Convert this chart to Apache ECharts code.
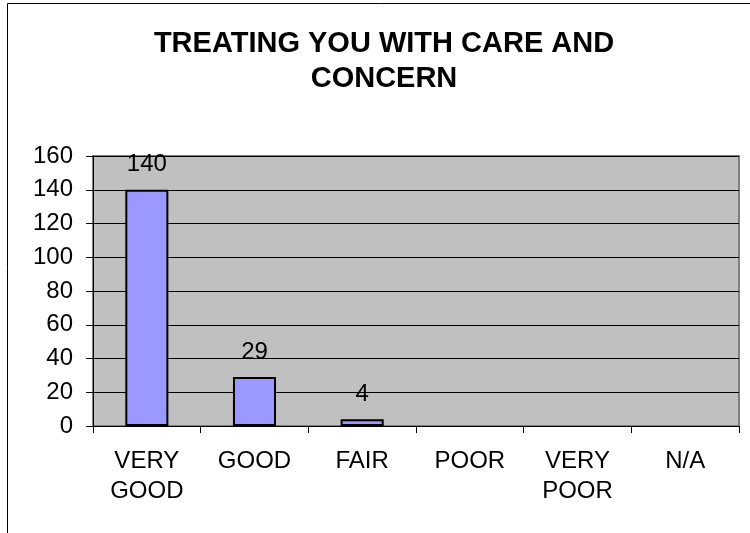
<!DOCTYPE html>
<html>
<head>
<meta charset="utf-8">
<script src="https://cdn.jsdelivr.net/npm/echarts@6/dist/echarts.min.js"></script>
<style>html,body{margin:0;padding:0;background:#fff}#c{width:750px;height:533px}</style>
</head>
<body>
<div id="c"></div>
<script>
const titleText = 'TREATING YOU WITH CARE AND\nCONCERN';
const categories = ['VERY\nGOOD', 'GOOD', 'FAIR', 'POOR', 'VERY\nPOOR', 'N/A'];
const values = [140, 29, 4, null, null, null];
const yMin = 0, yMax = 160, yStep = 20;

const FONT = 'Arial, "Liberation Sans", sans-serif';
const chart = echarts.init(document.getElementById('c'), null, {renderer: 'canvas'});
chart.setOption({
  animation: false,
  backgroundColor: '#ffffff',
  title: {
    text: titleText,
    left: 384,
    textAlign: 'center',
    top: 26,
    padding: 0,
    textStyle: {fontFamily: FONT, fontWeight: 'bold', fontSize: 29, lineHeight: 35, color: '#000'}
  },
  graphic: [{
    type: 'rect', silent: true, z: -10,
    shape: {x: 7.5, y: 3.5, width: 900, height: 700},
    style: {fill: 'none', stroke: '#000', lineWidth: 1}
  }],
  grid: {
    left: 93, right: 11, top: 156, bottom: 107,
    show: true, backgroundColor: '#C0C0C0', borderColor: '#808080', borderWidth: 2,
    containLabel: false
  },
  xAxis: {
    type: 'category', data: categories,
    axisLine: {show: true, lineStyle: {color: '#000', width: 1}},
    axisTick: {show: true, length: 7, alignWithLabel: false, lineStyle: {color: '#000'}},
    axisLabel: {fontFamily: FONT, fontSize: 24, color: '#000', lineHeight: 30, margin: 20, interval: 0},
    splitLine: {show: false}
  },
  yAxis: {
    type: 'value', min: yMin, max: yMax, interval: yStep,
    axisLine: {show: true, lineStyle: {color: '#000', width: 1}},
    axisTick: {show: true, length: 7, lineStyle: {color: '#000'}},
    axisLabel: {fontFamily: FONT, fontSize: 24, color: '#000', margin: 20},
    splitLine: {show: true, lineStyle: {color: '#000', width: 1}}
  },
  series: [{
    type: 'bar', data: values, barWidth: '40%',
    itemStyle: {color: '#9999FF', borderColor: '#000', borderWidth: 2},
    label: {show: true, position: 'top', distance: 13, fontFamily: FONT, fontSize: 24, color: '#000'}
  }]
});
</script>
</body>
</html>
